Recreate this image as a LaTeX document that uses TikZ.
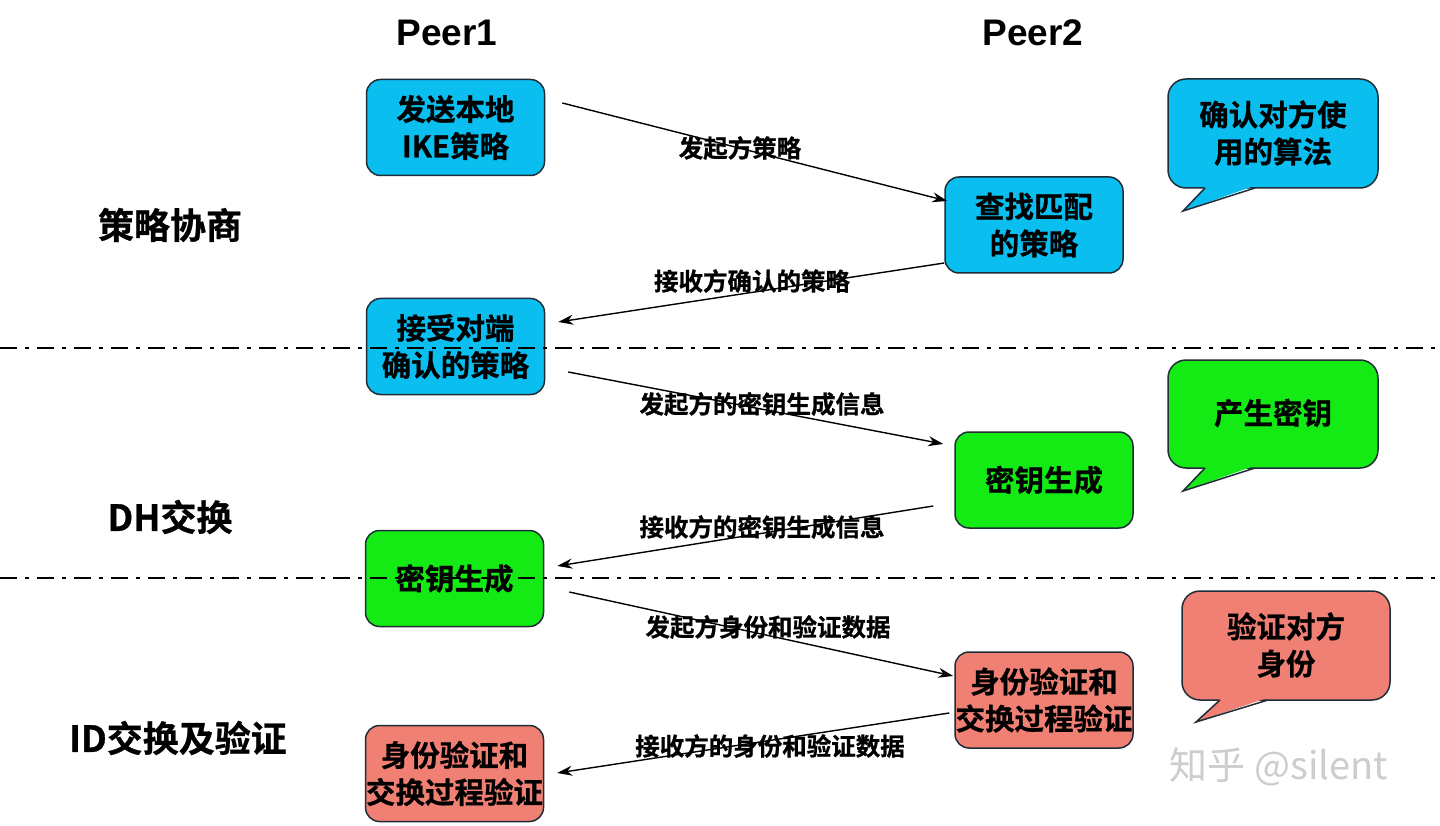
\documentclass[tikz,border=0pt]{standalone}
\usepackage{fontspec}
\setmainfont{Noto Sans CJK SC}[BoldFont={* Bold}, BoldFeatures={FakeBold=0.8}]
\newfontfamily\latinfont{Liberation Sans}
\usetikzlibrary{arrows.meta}
\definecolor{cyanbox}{RGB}{10,190,240}
\definecolor{greenbox}{RGB}{20,235,20}
\definecolor{salmonbox}{RGB}{240,128,115}
\definecolor{edgedark}{RGB}{30,45,55}
\definecolor{wmgray}{RGB}{205,205,205}
\tikzset{
  boxbase/.style={draw=edgedark, line width=1.5pt, rounded corners=14pt,
    minimum width=178pt, minimum height=96pt, inner sep=0pt, align=center,
    font=\bfseries\fontsize{29.5}{37}\selectfont},
  cyanstep/.style={boxbase, fill=cyanbox},
  greenstep/.style={boxbase, fill=greenbox},
  salmonstep/.style={boxbase, fill=salmonbox},
  msglabel/.style={inner sep=0pt, font=\bfseries\fontsize{24.5}{30}\selectfont},
  phaselabel/.style={inner sep=0pt, font=\bfseries\fontsize{36}{44}\selectfont},
  peerlabel/.style={inner sep=0pt, font=\latinfont\bfseries\fontsize{37}{44}\selectfont},
  msgarrow/.style={line width=1.4pt, -{Stealth[length=15pt,width=10pt]}},
  phaseline/.style={line width=2.8pt, dash pattern=on 17pt off 8pt on 4pt off 8pt},
  callouttext/.style={inner sep=0pt, align=center, font=\bfseries\fontsize{29.5}{37}\selectfont},
}
\newcommand{\mycallout}[6]{%
  \draw[draw=edgedark, line width=1.5pt, fill=#1, rounded corners=18pt] (#2) rectangle (#3);
  \fill[#1] ([xshift=1pt,yshift=2pt]#4) -- (#6) -- ([xshift=-1pt,yshift=2pt]#5) -- cycle;
  \draw[draw=edgedark, line width=1.5pt, line join=miter] (#4) -- (#6) -- (#5);
}
\begin{document}
\begin{tikzpicture}[x=1pt,y=-1pt]
\useasboundingbox (0,0) rectangle (1440,826);
\fill[white] (0,0) rectangle (1440,826);

% column headers
\node[peerlabel] (peer1) at (447,33) {Peer1};
\node[peerlabel] (peer2) at (1033,33) {Peer2};

% phase labels
\node[phaselabel] (ph1) at (170,225) {策略协商};
\node[phaselabel] (ph2) at (170,517) {DH交换};
\node[phaselabel] (ph3) at (178,738) {ID交换及验证};

% callouts
\coordinate (c1a) at (1168,79);  \coordinate (c1b) at (1378,188);
\coordinate (c1l) at (1205,188); \coordinate (c1r) at (1255,188); \coordinate (c1t) at (1183,211);
\mycallout{cyanbox}{c1a}{c1b}{c1l}{c1r}{c1t}
\node[callouttext] (c1txt) at (1273,133) {确认对方使\\用的算法};

\coordinate (c2a) at (1168,360);  \coordinate (c2b) at (1378,468);
\coordinate (c2l) at (1205,468); \coordinate (c2r) at (1255,468); \coordinate (c2t) at (1183,491);
\mycallout{greenbox}{c2a}{c2b}{c2l}{c2r}{c2t}
\node[callouttext] (c2txt) at (1273,413) {产生密钥};

\coordinate (c3a) at (1182,591);  \coordinate (c3b) at (1390,700);
\coordinate (c3l) at (1220,700); \coordinate (c3r) at (1268,700); \coordinate (c3t) at (1196,722);
\mycallout{salmonbox}{c3a}{c3b}{c3l}{c3r}{c3t}
\node[callouttext] (c3txt) at (1286,645) {验证对方\\身份};

% step boxes
\node[cyanstep] (b1) at (455.5,127.5) {发送本地\\IKE策略};
\node[cyanstep] (b2) at (1034,225) {查找匹配\\的策略};
\node[cyanstep] (b3) at (455.5,346.5) {接受对端\\确认的策略};
\node[greenstep] (b4) at (1044,480) {密钥生成};
\node[greenstep] (b5) at (454.5,578.5) {密钥生成};
\node[salmonstep] (b6) at (1044,700) {身份验证和\\交换过程验证};
\node[salmonstep] (b7) at (454.5,773.5) {身份验证和\\交换过程验证};

% phase separators
\coordinate (s1l) at (0,348);  \coordinate (s1r) at (1440,348);
\coordinate (s2l) at (0,578);  \coordinate (s2r) at (1440,578);
\draw[phaseline] (s1l) -- (s1r);
\draw[phaseline] (s2l) -- (s2r);

% messages
\draw[msgarrow] ([xshift=17pt,yshift=24.5pt]b1.east) -- ([xshift=3pt,yshift=24pt]b2.west);
\draw[msgarrow] ([xshift=0pt,yshift=-38pt]b2.west) -- ([xshift=13pt,yshift=24.5pt]b3.east);
\draw[msgarrow] ([xshift=23pt,yshift=-25.5pt]b3.east) -- ([xshift=-11pt,yshift=36pt]b4.west);
\draw[msgarrow] ([xshift=-21pt,yshift=-26pt]b4.west) -- ([xshift=13pt,yshift=12.5pt]b5.east);
\draw[msgarrow] ([xshift=25pt,yshift=-13.5pt]b5.east) -- ([xshift=-1pt,yshift=24pt]b6.west);
\draw[msgarrow] ([xshift=-5pt,yshift=-13pt]b6.west) -- ([xshift=13pt,yshift=0.5pt]b7.east);

\node[msglabel] (m1) at (740,148) {发起方策略};
\node[msglabel] (m2) at (752,281) {接收方确认的策略};
\node[msglabel] (m3) at (762,404) {发起方的密钥生成信息};
\node[msglabel] (m4) at (762,527) {接收方的密钥生成信息};
\node[msglabel] (m5) at (768,627) {发起方身份和验证数据};
\node[msglabel] (m6) at (770,746) {接收方的身份和验证数据};

% watermark
\node[inner sep=0pt, text=wmgray, font=\fontsize{38}{44}\selectfont] (wm) at (1279,767) {知乎 @silent};
\end{tikzpicture}
\end{document}
